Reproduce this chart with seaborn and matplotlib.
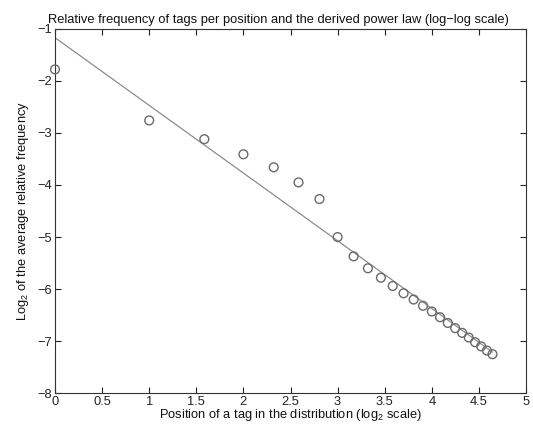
import numpy as np
import pandas as pd
import matplotlib
matplotlib.use("Agg")
import matplotlib.pyplot as plt
import seaborn as sns

# Tag rank positions and the average relative frequency (log2) at each
positions = list(range(1, 26))
log2_freq = [-1.78, -2.76, -3.12, -3.41, -3.66, -3.95, -4.27, -5.00, -5.37, -5.60,
             -5.78, -5.94, -6.08, -6.20, -6.32, -6.43, -6.54, -6.65, -6.75, -6.84,
             -6.93, -7.02, -7.10, -7.18, -7.25]

# Endpoints of the fitted power law in log-log space
law_x = [0.0, 4.644]
law_y = [-1.17, -7.21]

x_ticks = [0, 0.5, 1, 1.5, 2, 2.5, 3, 3.5, 4, 4.5, 5]
y_ticks = [-8, -7, -6, -5, -4, -3, -2, -1]

sns.set_style("ticks")
plt.rcParams["font.family"] = ["Liberation Sans", "DejaVu Sans"]
plt.rcParams["mathtext.default"] = "regular"

points = pd.DataFrame({"x": np.log2(positions), "y": log2_freq})
law = pd.DataFrame({"x": law_x, "y": law_y})

fs = 9.3
fig = plt.figure(figsize=(5.33, 4.30), dpi=100)
ax = fig.add_axes([0.1032, 0.0855, 0.8837, 0.8475])

sns.lineplot(data=law, x="x", y="y", ax=ax, color="#8c8c8c", linewidth=0.9)
sns.scatterplot(data=points, x="x", y="y", ax=ax, marker="o", s=40,
                facecolor="none", edgecolor="#6a6a6a", linewidth=1.0,
                zorder=3, clip_on=False)

ax.set_xlim(0, 5)
ax.set_ylim(-8, -1)
ax.set_xticks(x_ticks)
ax.set_xticklabels([f"{t:g}" for t in x_ticks])
ax.set_yticks(y_ticks)
ax.set_yticklabels([f"\u2212{abs(t)}" for t in y_ticks])

ax.tick_params(direction="in", length=4, width=0.8, labelsize=fs,
               top=True, right=True, colors="#222222", pad=2)
for s in ax.spines.values():
    s.set_visible(True)
    s.set_linewidth(0.8)
    s.set_color("#333333")

ax.set_title("Relative frequency of tags per position and the derived power law (log\u2212log scale)",
             fontsize=fs, pad=4, color="#111111", x=0.474)
ax.set_xlabel("Position of a tag in the distribution (log$_2$ scale)", fontsize=fs,
              labelpad=-1, color="#111111")
ax.set_ylabel("Log$_2$ of the average relative frequency", fontsize=fs,
              labelpad=5, color="#111111")

fig.savefig("out.png", dpi=100, facecolor="white")
